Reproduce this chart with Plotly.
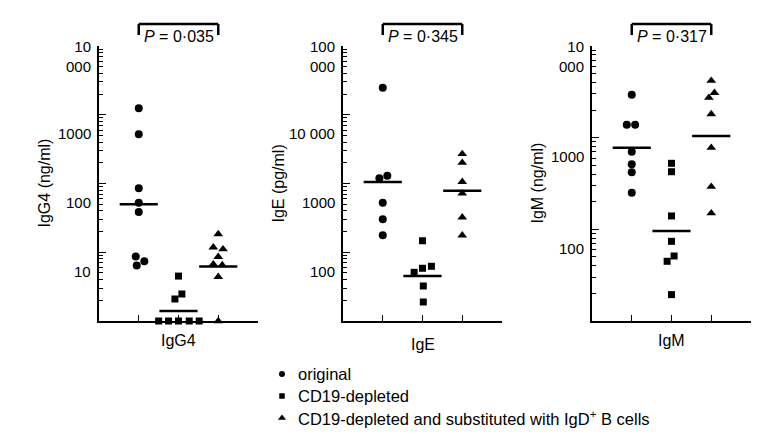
import math
import plotly.graph_objects as go

# The page body adds an 8 px margin; the figure is sized so it fits the
# 776x444 window and all pixel positions below are window positions.
WIN_W, WIN_H = 776, 444
OFF = 8
W, H = WIN_W - 2 * OFF, WIN_H - 2 * OFF

# ---------------- data ----------------
categories = [1, 2, 3]          # original, CD19-depleted, substituted
group_names = ["original", "CD19-depleted",
               "CD19-depleted and substituted with IgD<sup>+</sup> B cells"]
symbols = ["circle", "square", "triangle-up"]
marker_sizes = [8, 7, 8.5]
legend_marker_sizes = [6, 5.5, 7]

panel_titles = ["IgG4", "IgE", "IgM"]
y_titles = ["IgG4 (ng/ml)", "IgE (pg/ml)", "IgM (ng/ml)"]
p_values = ["0·035", "0·345", "0·317"]

# IgG4 (ng/ml)
igg4_original = [1240, 520, 85, 52.6, 38.5, 8.7, 7.4, 6.4]
igg4_original_jitter = [0, 0, 0, 0, 0, -0.075, 0.14, -0.05]
igg4_depleted = [4.5, 2.47, 2.09, 1, 1, 1, 1, 1]
igg4_depleted_jitter = [0, 0.085, -0.09, -0.5, -0.25, 0, 0.27, 0.52]
igg4_substituted = [18.4, 11.8, 11.1, 8.6, 6.7, 6.5, 4.4, 1]
igg4_substituted_jitter = [0, -0.125, 0.12, 0, -0.125, 0.1, 0, 0]
igg4_medians = [50, 1.4, 6.2]

# IgE (pg/ml)
ige_original = [24800, 1300, 1190, 526, 301, 176]
ige_original_jitter = [0, 0.115, -0.085, 0, 0, 0]
ige_depleted = [147, 62.5, 58.5, 51, 32.3, 18.9]
ige_depleted_jitter = [0, 0.225, 0, -0.21, 0.02, 0.02]
ige_substituted = [2690, 2010, 1060, 720, 322, 176]
ige_substituted_jitter = [0, 0, 0, 0, 0, 0]
ige_medians = [1050, 45.2, 785]

# IgM (ng/ml)
igm_original = [2940, 1385, 1385, 703, 512, 419, 251]
igm_original_jitter = [0, -0.125, 0.085, 0, 0, 0, 0]
igm_depleted = [525, 425, 140, 74, 51.2, 44.8, 19.4]
igm_depleted_jitter = [0, 0, 0, 0, 0.065, -0.11, 0]
igm_substituted = [4180, 3090, 2730, 1812, 778, 292, 150]
igm_substituted_jitter = [0, 0.08, -0.06, 0, 0, 0, 0]
igm_medians = [778, 96, 1042]

y_ranges = [[1, 10000], [10, 100000], [10, 10000]]
tick_values = [[10, 100, 1000, 10000],
               [100, 1000, 10000, 100000],
               [100, 1000, 10000]]
tick_texts = [["10", "100", "1000", "10<br>000"],
              ["100", "1000", "10 000", "100<br>000"],
              ["100", "1000", "10<br>000"]]

panels = [
    ([igg4_original, igg4_depleted, igg4_substituted],
     [igg4_original_jitter, igg4_depleted_jitter, igg4_substituted_jitter],
     igg4_medians),
    ([ige_original, ige_depleted, ige_substituted],
     [ige_original_jitter, ige_depleted_jitter, ige_substituted_jitter],
     ige_medians),
    ([igm_original, igm_depleted, igm_substituted],
     [igm_original_jitter, igm_depleted_jitter, igm_substituted_jitter],
     igm_medians),
]

# ---------------- layout geometry (window pixels) ----------------
x_domains_px = [(99, 258), (343, 502), (592, 751)]
y_domain_px = (46, 321)
FONT = "Liberation Sans, Arial, Helvetica, sans-serif"


def px_x(p):
    return (p - OFF) / W


def px_y(p):
    return 1 - (p - OFF) / H


fig = go.Figure()

for i, (series, jitters, medians) in enumerate(panels):
    ax = "" if i == 0 else str(i + 1)
    xref, yref = "x" + ax, "y" + ax
    for g in range(3):
        xs = [categories[g] + j for j in jitters[g]]
        fig.add_trace(go.Scatter(
            x=xs, y=series[g], mode="markers", xaxis=xref, yaxis=yref,
            name=group_names[g], showlegend=False, cliponaxis=False,
            marker=dict(symbol=symbols[g], size=marker_sizes[g], color="black",
                        line=dict(width=0)),
            hoverinfo="y"))
    for g in range(3):
        fig.add_trace(go.Scatter(
            x=[categories[g] - 0.48, categories[g] + 0.48],
            y=[medians[g], medians[g]], mode="lines", xaxis=xref, yaxis=yref,
            showlegend=False, line=dict(color="black", width=2.5),
            hoverinfo="skip"))

    x0, x1 = x_domains_px[i]
    lo, hi = y_ranges[i]
    fig.layout["xaxis" + ax] = dict(
        domain=[px_x(x0), px_x(x1)], range=[0, 4], anchor=yref,
        showline=True, linecolor="black", linewidth=2,
        tickvals=[1, 2, 3, 4], ticks="inside", ticklen=6, tickwidth=1.2,
        tickcolor="black", showticklabels=False, showgrid=False, zeroline=False,
        fixedrange=True)
    fig.layout["yaxis" + ax] = dict(
        domain=[px_y(y_domain_px[1]), px_y(y_domain_px[0])],
        type="log", range=[math.log10(lo), math.log10(hi)], anchor=xref,
        showline=True, linecolor="black", linewidth=2,
        tickvals=tick_values[i] + [lo], ticks="inside", ticklen=7,
        tickwidth=1.2, tickcolor="black", showticklabels=False,
        minor=dict(ticks="inside", ticklen=4, tickwidth=1, tickcolor="black",
                   dtick="D1", showgrid=False),
        showgrid=False, zeroline=False, fixedrange=True)

    # tick labels (offset below the ticks, as in the original figure)
    for v, t in zip(tick_values[i], tick_texts[i]):
        two_lines = "<br>" in t
        fig.add_annotation(
            x=0, y=math.log10(v), xref=xref, yref=yref, text=t,
            showarrow=False, xanchor="right", yanchor="middle", align="right",
            xshift=-6, yshift=(-10.5 if two_lines else -19),
            font=dict(family=FONT, size=15, color="black"))

    # y-axis title
    ytitle_x = [44, 278, 537][i]
    fig.add_annotation(
        x=px_x(ytitle_x), y=px_y((y_domain_px[0] + y_domain_px[1]) / 2),
        xref="paper", yref="paper", text=y_titles[i], textangle=-90,
        showarrow=False, xanchor="center", yanchor="middle",
        font=dict(family=FONT, size=16, color="black"))

    # category title below axis
    cat_top = [330, 334, 330][i]
    fig.add_annotation(
        x=categories[1], y=px_y(cat_top), xref=xref, yref="paper",
        text=panel_titles[i], showarrow=False, xanchor="center", yanchor="top",
        font=dict(family=FONT, size=16, color="black"))

    # significance bracket
    top, leg = px_y(24), px_y(35)
    for (a, b, c, d) in [(categories[0], top, categories[2], top),
                         (categories[0], top, categories[0], leg),
                         (categories[2], top, categories[2], leg)]:
        fig.add_shape(type="line", x0=a, y0=b, x1=c, y1=d,
                      xref=xref, yref="paper",
                      line=dict(color="black", width=2.5))
    fig.add_annotation(
        x=categories[1], y=px_y(36.5), xref=xref, yref="paper",
        text="<i>P</i> = " + p_values[i], showarrow=False,
        xanchor="center", yanchor="middle",
        font=dict(family=FONT, size=16, color="black"))

# ---------------- key (drawn on its own hidden axes) ----------------
rows = list(range(len(group_names)))
for g in rows:
    fig.add_trace(go.Scatter(
        x=[0], y=[g], mode="markers", xaxis="x4", yaxis="y4",
        showlegend=False, cliponaxis=False, hoverinfo="skip",
        marker=dict(symbol=symbols[g], size=legend_marker_sizes[g],
                    color="black", line=dict(width=0))))
    fig.add_annotation(
        x=0, y=g, xref="x4", yref="y4", text=group_names[g],
        showarrow=False, xanchor="left", yanchor="middle", xshift=14,
        font=dict(family=FONT, size=16.5, color="black"))

fig.layout["xaxis4"] = dict(domain=[px_x(272), px_x(292)], range=[-1, 1],
                            visible=False, anchor="y4", fixedrange=True)
fig.layout["yaxis4"] = dict(domain=[px_y(429), px_y(363)], range=[2.5, -0.5],
                            visible=False, anchor="x4", fixedrange=True)

fig.update_layout(
    width=W, height=H, margin=dict(l=0, r=0, t=0, b=0),
    paper_bgcolor="white", plot_bgcolor="white",
    showlegend=False,
)

fig.write_html("out.html")
